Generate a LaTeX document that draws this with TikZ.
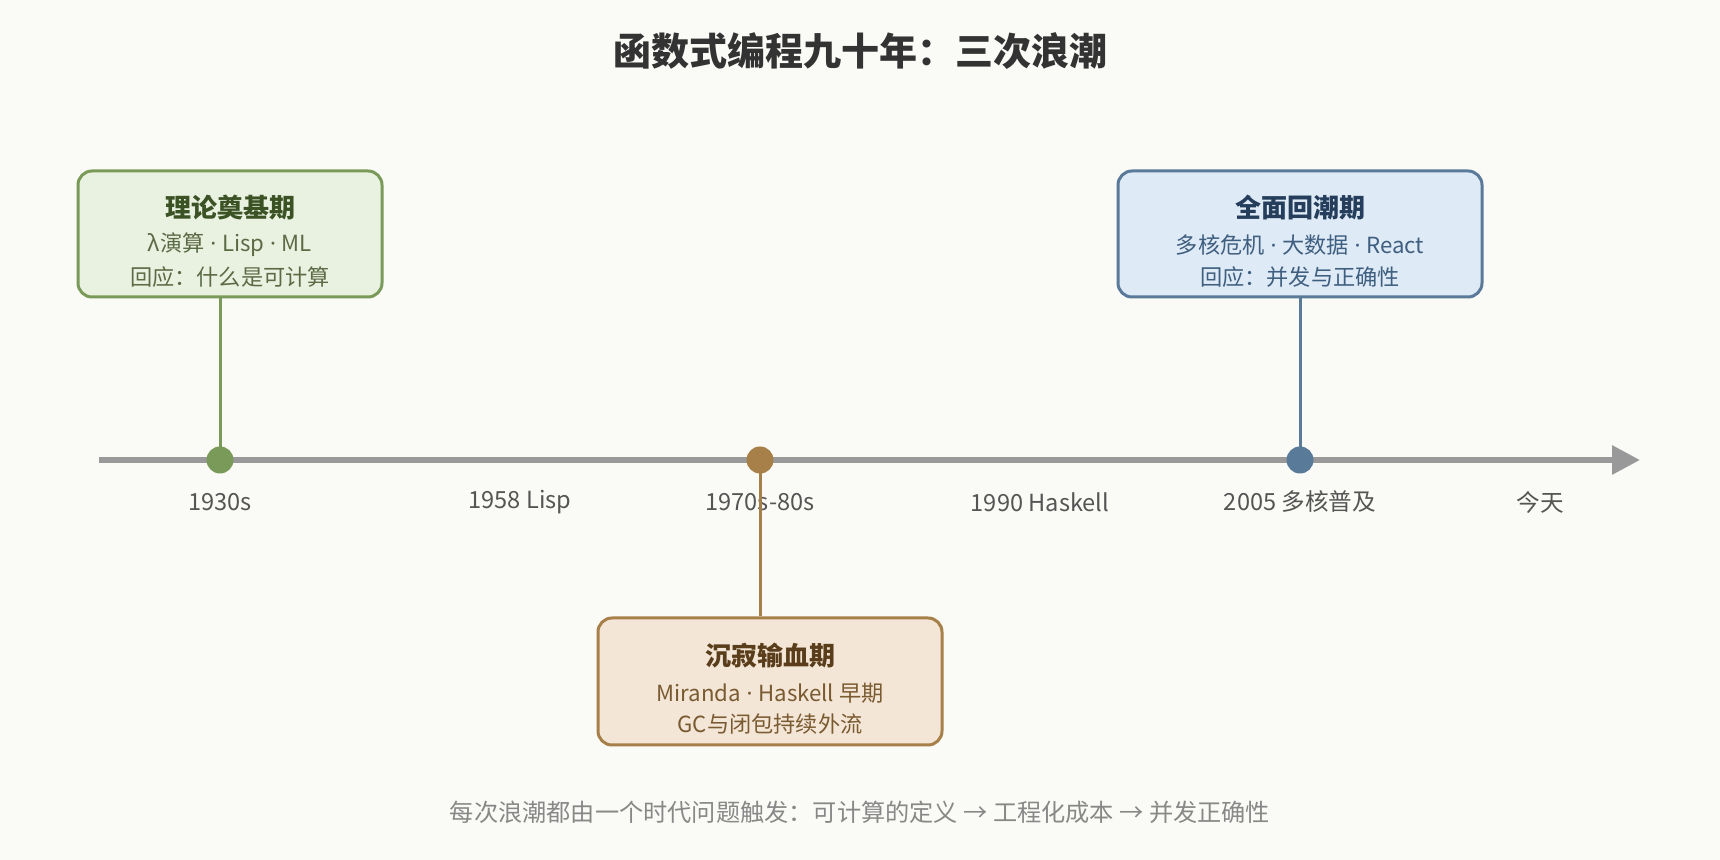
\documentclass[tikz,border=0pt]{standalone}
\usepackage{fontspec}
\setmainfont{Noto Sans CJK SC}
\newfontfamily\latinfont{Noto Sans}
\newcommand{\mdot}{{\latinfont\ ·\ }}
\usetikzlibrary{arrows.meta}
\definecolor{bg}{HTML}{FAFAF6}
\definecolor{axis}{HTML}{999999}
\definecolor{gStroke}{HTML}{7A9A5A}
\definecolor{gFill}{HTML}{E9F1E0}
\definecolor{gTitle}{HTML}{3B5224}
\definecolor{gText}{HTML}{5B6B45}
\definecolor{bStroke}{HTML}{5A7A9A}
\definecolor{bFill}{HTML}{DEEAF5}
\definecolor{bTitle}{HTML}{243E5C}
\definecolor{bText}{HTML}{3F5F80}
\definecolor{oStroke}{HTML}{A68048}
\definecolor{oFill}{HTML}{F3E6D7}
\definecolor{oTitle}{HTML}{5A3E1B}
\definecolor{oText}{HTML}{7A5A30}
\definecolor{lbl}{HTML}{555555}
\definecolor{cap}{HTML}{888888}
\definecolor{ttl}{HTML}{333333}
\tikzset{
  x=0.5pt, y=-0.5pt,
  era/.style={draw, line width=1.5pt, rounded corners=7pt, inner sep=0pt},
  eratitle/.style={font=\fontsize{13}{15}\selectfont\bfseries, inner sep=0pt},
  eratext/.style={font=\fontsize{11.1}{13}\selectfont, inner sep=0pt},
  dot/.style={circle, inner sep=0pt, minimum size=13.5pt},
  stem/.style={line width=1.5pt},
  tick/.style={font=\fontsize{11.8}{13}\selectfont, text=lbl, inner sep=0pt},
}
\begin{document}
\begin{tikzpicture}
\fill[bg] (0,0) rectangle (1720,860);
\useasboundingbox (0,0) rectangle (1720,860);

\node[font=\fontsize{19}{22}\selectfont\bfseries, text=ttl, inner sep=0pt] (title) at (860,51) {函数式编程九十年：三次浪潮};

% timeline
\coordinate (tlstart) at (99,460);
\coordinate (tlend) at (1640,460);
\draw[axis, line width=3pt, -{Triangle[length=14pt,width=14pt]}] (tlstart) -- (tlend);

% labels
\node[tick] (l1) at (220,502) {1930s};
\node[tick] (l2) at (520,502) {1958 Lisp};
\node[tick] (l3) at (760,502) {1970s-80s};
\node[tick] (l4) at (1040,502) {1990 Haskell};
\node[tick] (l5) at (1300,502) {2005 多核普及};
\node[tick] (l6) at (1540,502) {今天};

% boxes
\node[era, draw=gStroke, fill=gFill, minimum width=152pt, minimum height=63pt] (gbox) at (230,234) {};
\node[era, draw=bStroke, fill=bFill, minimum width=182pt, minimum height=63pt] (bbox) at (1300,234) {};
\node[era, draw=oStroke, fill=oFill, minimum width=172pt, minimum height=63.5pt] (obox) at (770,681.5) {};

\node[eratitle, text=gTitle] (gt) at (230,208) {理论奠基期};
\node[eratext, text=gText] (g2) at (230,245) {λ演算\mdot Lisp\mdot ML};
\node[eratext, text=gText] (g3) at (230,277) {回应：什么是可计算};

\node[eratitle, text=bTitle] (bt) at (1300,208) {全面回潮期};
\node[eratext, text=bText] (b2) at (1300,245) {多核危机\mdot 大数据\mdot React};
\node[eratext, text=bText] (b3) at (1300,277) {回应：并发与正确性};

\node[eratitle, text=oTitle] (ot) at (770,656) {沉寂输血期};
\node[eratext, text=oText] (o2) at (770,693) {Miranda\mdot Haskell 早期};
\node[eratext, text=oText] (o3) at (770,724) {GC与闭包持续外流};

% dots
\node[dot, fill=gStroke] (gd) at (220,460) {};
\node[dot, fill=oStroke] (od) at (760,460) {};
\node[dot, fill=bStroke] (bd) at (1300,460) {};

% stems
\draw[stem, gStroke] (gbox.south -| gd) -- (gd.center);
\draw[stem, bStroke] (bbox.south -| bd) -- (bd.center);
\draw[stem, oStroke] (od.center) -- (obox.north -| od);

\node[font=\fontsize{12.1}{14}\selectfont, text=cap, inner sep=0pt] (caption) at (860,812) {每次浪潮都由一个时代问题触发：可计算的定义 → 工程化成本 → 并发正确性};
\end{tikzpicture}
\end{document}
